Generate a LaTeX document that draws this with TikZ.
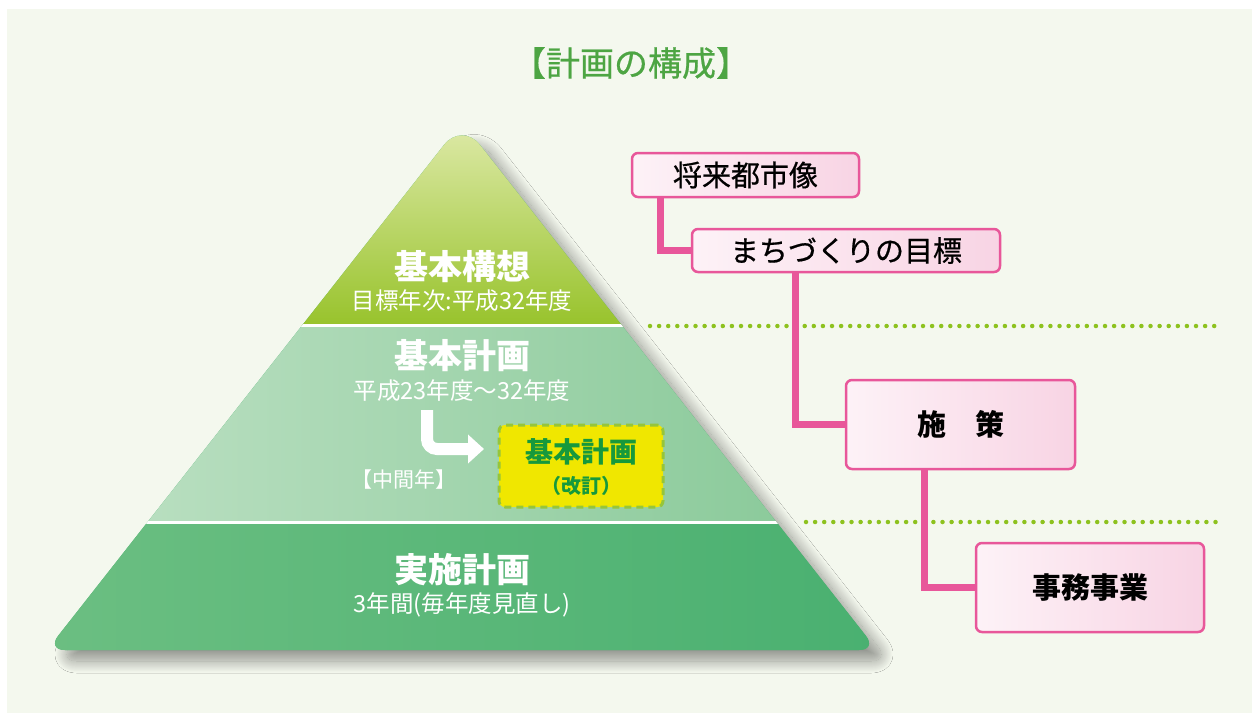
\documentclass[tikz,border=0pt]{standalone}
\usepackage{fontspec}
\newfontfamily\jp{Noto Sans CJK JP}
\newfontfamily\jpm{Noto Sans CJK JP}[FakeBold=0.6]
\usetikzlibrary{shadows.blur,arrows.meta}
\definecolor{bg}{HTML}{F4F8EE}
\definecolor{ttl}{HTML}{4DA543}
\definecolor{topA}{HTML}{E2ECB0}
\definecolor{topB}{HTML}{98C32C}
\definecolor{midA}{HTML}{C0E2C6}
\definecolor{midB}{HTML}{84C795}
\definecolor{botA}{HTML}{6CBF82}
\definecolor{botB}{HTML}{49B070}
\definecolor{yel}{HTML}{F0E700}
\definecolor{dashg}{HTML}{96C53A}
\definecolor{gtext}{HTML}{16993C}
\definecolor{pinkL}{HTML}{FDF2F7}
\definecolor{pinkR}{HTML}{F8D4E4}
\definecolor{pinkB}{HTML}{E8579A}
\definecolor{dotg}{HTML}{8DC21E}
\tikzset{
  titlestyle/.style={text=ttl, font=\jpm\fontsize{34}{34}\selectfont},
  wbig/.style={text=white, font=\jp\bfseries\fontsize{34}{34}\selectfont},
  wsmall/.style={text=white, font=\jp\fontsize{23.5}{24}\selectfont},
  wtiny/.style={text=white, font=\jp\fontsize{21}{21}\selectfont},
  ybox/.style={draw=dashg, fill=yel, line width=3pt, dash pattern=on 7pt off 5pt, rounded corners=6pt},
  gbig/.style={text=gtext, font=\jp\bfseries\fontsize{28}{28}\selectfont},
  gsmall/.style={text=gtext, font=\jp\bfseries\fontsize{20}{20}\selectfont},
  pbox/.style={draw=pinkB, line width=2.5pt, rounded corners=6pt, left color=pinkL, right color=pinkR, text=black},
  ptext/.style={font=\jpm\fontsize{29}{29}\selectfont},
  ptextb/.style={font=\jp\bfseries\fontsize{29}{29}\selectfont},
  conn/.style={draw=pinkB, line width=7pt},
  dotline/.style={draw=dotg, line width=4.5pt, line cap=round, dash pattern=on 0pt off 9.1pt},
}
\begin{document}
\begin{tikzpicture}[x=1pt,y=-1pt]
\useasboundingbox (0,0) rectangle (1252,713);
\fill[white] (0,0) rectangle (1252,713);
\fill[bg] (7,9) rectangle (1252,713);

\node[titlestyle] (title) at (631,63) {【計画の構成】};

% pyramid with shadow
\fill[botB, blur shadow={shadow xshift=12pt, shadow yshift=-11pt, shadow blur radius=12pt, shadow blur steps=24, shadow opacity=40}]
  (462,650) [rounded corners=18pt] -- (877,650) [rounded corners=29pt] -- (462,122) [rounded corners=18pt] -- (47,650) -- cycle;
\begin{scope}
\clip (462,650) [rounded corners=18pt] -- (877,650) [rounded corners=29pt] -- (462,122) [rounded corners=18pt] -- (47,650) -- cycle;
\shade[top color=topA, bottom color=topB] (30,110) rectangle (890,325);
\shade[left color=midA, right color=midB] (30,325) rectangle (890,522);
\shade[left color=botA, right color=botB] (30,522) rectangle (890,670);
\draw[white, line width=3pt] (30,325) -- (890,325);
\draw[white, line width=3pt] (30,522) -- (890,522);
\end{scope}

\node[wbig] (kk) at (462,267) {基本構想};
\node[wsmall] (kk2) at (462,301) {目標年次:平成32年度};
\node[wbig] (kp) at (462,356) {基本計画};
\node[wsmall] (kp2) at (462,391) {平成23年度～32年度};
\node[wtiny] (mid) at (404,480) {【中間年】};
\node[wbig] (jp) at (462,570) {実施計画};
\node[wsmall] (jp2) at (462,605) {3年間(毎年度見直し)};

\coordinate (arrS) at (427,410);
\coordinate (arrE) at (484,449);
\draw[white, line width=12pt, rounded corners=10pt, -{Triangle[width=28pt,length=16pt]}] (arrS) |- (arrE);

\node[ybox, minimum width=164pt, minimum height=82pt] (yb) at (581,466) {};
\node[gbig] (yb1) at (581,452) {基本計画};
\node[gsmall] (yb2) at (581,486) {（改訂）};

% dotted separators
\draw[dotline] (650,326) -- (1222,326);
\draw[dotline] (806,522) -- (1222,522);

% right tree
\node[pbox, ptext, minimum width=227pt, minimum height=44pt] (b1) at (745.5,175) {将来都市像};
\node[pbox, ptext, minimum width=308pt, minimum height=43pt] (b2) at (846,250.5) {まちづくりの目標};
\node[pbox, ptextb, minimum width=229pt, minimum height=89pt] (b3) at (960.5,424.5) {施　策};
\node[pbox, ptextb, minimum width=228pt, minimum height=89pt] (b4) at (1090,587.5) {事務事業};

\draw[conn] ([xshift=30pt]b1.south west) |- (b2.west);
\draw[conn] ([xshift=105pt]b2.south west) |- (b3.west);
\draw[conn] ([xshift=80pt]b3.south west) |- (b4.west);
\end{tikzpicture}
\end{document}
